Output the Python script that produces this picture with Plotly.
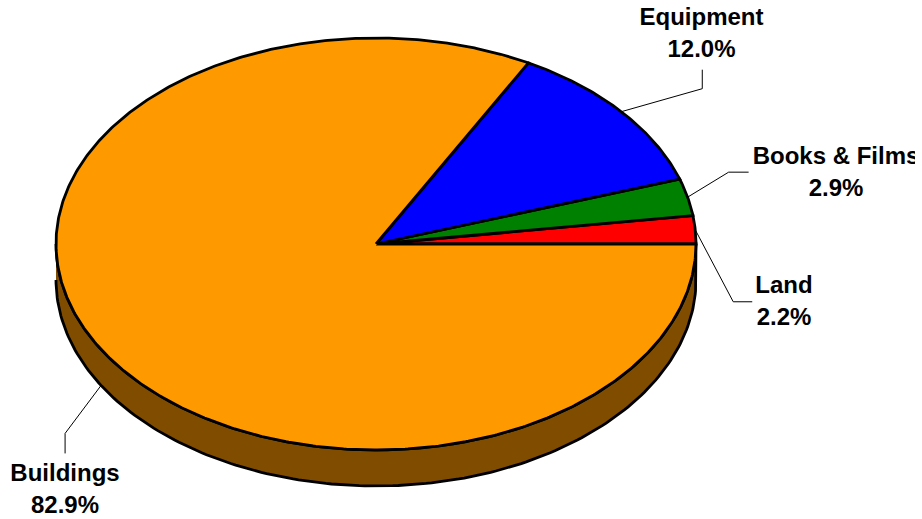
import numpy as np
import plotly.graph_objects as go

# Data (counter-clockwise from 3 o'clock)
categories = ["Land", "Books & Films", "Equipment", "Buildings"]
shares = [2.2, 2.9, 12.0, 82.9]
share_labels = ["2.2%", "2.9%", "12.0%", "82.9%"]

# Styles / layout
slice_colors = ["#ff0000", "#008000", "#0000ff", "#ff9900"]
wall_color = "#804c00"
W, H, CLIP_W = 922, 519, 915
CX, CY, RX, RY, DEPTH = 376, 244, 320, 206, 36
OUTLINE = 2.8
# pixel offsets of leader elbow and end, from the slice's rim point
leaders = {
    "Land": [(38, 72), (57, 72)],
    "Books & Films": [(41, -25), (61, -25)],
    "Equipment": [(81, -23), (81, -42)],
    "Buildings": [(-36, 48), (-36, 68)],
}
label_centers = {
    "Land": (784, 303),
    "Books & Films": (836, 174),
    "Equipment": (701.5, 35),
    "Buildings": (65, 491),
}


def rim(theta, drop=0.0):
    return CX + RX * np.cos(theta), CY - RY * np.sin(theta) + drop


fig = go.Figure()

# Side wall of the disc
t = np.linspace(np.pi, 2 * np.pi, 181)
x_top, y_top = rim(t)
x_bot, y_bot = rim(t[::-1], DEPTH)
fig.add_trace(go.Scatter(
    x=np.concatenate([x_top, x_bot]), y=np.concatenate([y_top, y_bot]),
    mode="lines", fill="toself", fillcolor=wall_color,
    line=dict(color="black", width=OUTLINE), hoverinfo="skip",
))

# Slices
edges = np.concatenate([[0], np.cumsum(shares)]) / np.sum(shares) * 2 * np.pi
for i, name in enumerate(categories):
    a = np.linspace(edges[i], edges[i + 1], max(3, int(np.degrees(edges[i + 1] - edges[i])) * 2))
    xs, ys = rim(a)
    fig.add_trace(go.Scatter(
        x=np.concatenate([[CX], xs, [CX]]), y=np.concatenate([[CY], ys, [CY]]),
        mode="lines", fill="toself", fillcolor=slice_colors[i],
        line=dict(color="black", width=OUTLINE), name=name,
        hovertemplate=f"{name}: {share_labels[i]}<extra></extra>",
    ))

# Leader lines
for i, name in enumerate(categories):
    mid = (edges[i] + edges[i + 1]) / 2
    x0, y0 = rim(mid, DEPTH if np.sin(mid) < 0 else 0)
    pts = leaders[name]
    fig.add_trace(go.Scatter(
        x=[x0] + [x0 + p[0] for p in pts], y=[y0] + [y0 + p[1] for p in pts],
        mode="lines", line=dict(color="black", width=1), hoverinfo="skip",
    ))

# Labels (clipped by the plot area, as "Books & Films" is in the original)
fig.add_trace(go.Scatter(
    x=[label_centers[c][0] for c in categories],
    y=[label_centers[c][1] for c in categories],
    text=[f"<b>{c}</b><br><b>{s}</b>" for c, s in zip(categories, share_labels)],
    mode="text", textposition="middle center", cliponaxis=True,
    textfont=dict(family="Liberation Sans, Arial, sans-serif", size=24, color="black"),
    hoverinfo="skip",
))

fig.update_layout(
    width=W, height=H, margin=dict(l=0, r=0, t=0, b=0),
    paper_bgcolor="white", plot_bgcolor="white", showlegend=False,
    xaxis=dict(range=[0, CLIP_W], domain=[0, CLIP_W / W], visible=False, fixedrange=True),
    yaxis=dict(range=[H, 0], domain=[0, 1], visible=False, fixedrange=True),
)
fig.write_html(
    "out.html",
    config={"displayModeBar": False},
    post_script="document.body.style.margin='0';document.documentElement.style.overflow='hidden';",
)
